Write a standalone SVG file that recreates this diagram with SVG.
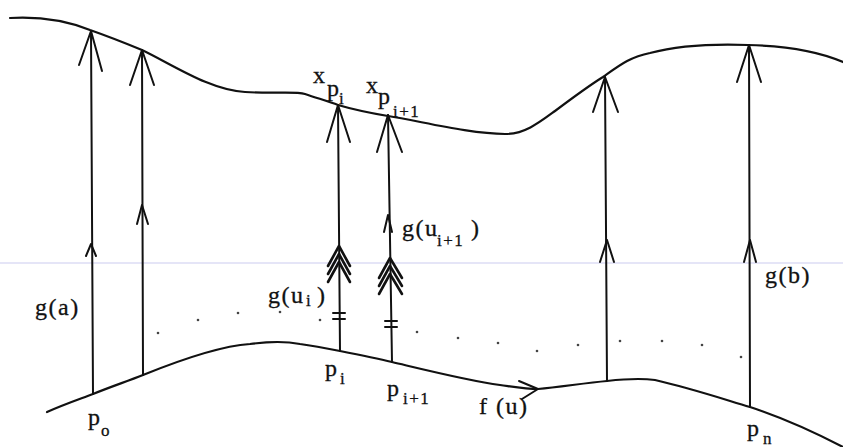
<svg xmlns="http://www.w3.org/2000/svg" width="843" height="447" viewBox="0 0 843 447">
<style>
.c{fill:none;stroke:#111;stroke-width:2.2;stroke-linecap:round}
.a{fill:none;stroke:#111;stroke-width:2;stroke-linecap:round;stroke-linejoin:round}
.b{fill:none;stroke:#111;stroke-width:2.6;stroke-linecap:round;stroke-linejoin:round}
text{font-family:"Liberation Serif","Times New Roman","DejaVu Serif",serif;font-size:24px;fill:#111;letter-spacing:1.5px;stroke:#111;stroke-width:0.3}
text.s{font-size:17px;letter-spacing:1.5px}
.d{fill:#444}
</style>
<rect width="843" height="447" fill="#fff"/>
<line x1="0" y1="263" x2="843" y2="263" stroke="#dcdcf4" stroke-width="1.5"/>
<g id="curves">
<path class="c" d="M10,18 C45,16 70,22 90,30 C110,37 125,43 142,50 C175,66 210,90 245,92 C275,94 295,91 305,94 C320,99 330,102 338,105 C355,110 370,113 388,116 C420,121 470,134 505,134 C525,134 540,122 555,111 C575,96 590,85 603,77 C620,65 630,57 650,53 C680,45 720,44 748,45 C790,46 820,52 843,62"/>
<path class="c" d="M47,412 C65,404 80,399 93,394 C110,387 128,381 143,375 C180,360 220,346 250,344 C265,342 285,341 300,344 C315,346 330,349 340,351 C360,355 375,358 392,362 C430,371 470,381 500,385 C515,387 527,389 538,389 C560,387 585,383 607,381 C625,379 640,378 655,380 C690,388 720,398 750,407 C790,420 820,435 843,447"/>
<polyline class="a" points="519,381 538,389 522,399"/>
</g>
<g id="connectors">
<g id="arrow-a">
<line class="a" x1="93" y1="394" x2="91" y2="31"/>
<polyline class="a" points="79,65 91,31 102,71"/>
<polyline class="a" points="86,256 91,244 96,256"/>
</g>
<g id="arrow-2">
<line class="a" x1="143" y1="375" x2="142" y2="50"/>
<polyline class="a" points="130,85 142,50 154,85"/>
<polyline class="a" points="137,224 142,205 148,224"/>
</g>
<g id="arrow-pi">
<line class="a" x1="340" y1="351" x2="338" y2="105"/>
<polyline class="a" points="327,142 338,105 350,142"/>
<polyline class="b" points="328,266 339,246 350,266"/>
<polyline class="b" points="328,274 339,254 350,274"/>
<polyline class="b" points="328,282 339,262 350,282"/>
<line class="a" x1="333" y1="313" x2="345" y2="313"/>
<line class="a" x1="333" y1="319" x2="345" y2="319"/>
</g>
<g id="arrow-pi1">
<line class="a" x1="392" y1="362" x2="388" y2="115"/>
<polyline class="a" points="377,152 388,115 402,152"/>
<polyline class="a" points="384,232 388,215 392,232"/>
<polyline class="b" points="379,278 390,258 402,278"/>
<polyline class="b" points="379,286 390,266 402,286"/>
<polyline class="b" points="379,294 390,274 402,294"/>
<line class="a" x1="385" y1="321" x2="397" y2="321"/>
<line class="a" x1="385" y1="327" x2="397" y2="327"/>
</g>
<g id="arrow-5">
<line class="a" x1="607" y1="381" x2="605" y2="77"/>
<polyline class="a" points="593,112 605,77 618,112"/>
<polyline class="a" points="600,262 607,240 614,262"/>
</g>
<g id="arrow-b">
<line class="a" x1="750" y1="407" x2="749" y2="45"/>
<polyline class="a" points="737,82 749,45 761,82"/>
<polyline class="a" points="744,262 750,240 756,262"/>
</g>
</g>
<g id="dots" class="d">
<circle cx="158" cy="333" r="1.3"/><circle cx="198" cy="320" r="1.3"/><circle cx="238" cy="313" r="1.3"/><circle cx="280" cy="312" r="1.3"/><circle cx="320" cy="320" r="1.3"/><circle cx="417" cy="332" r="1.3"/><circle cx="458" cy="338" r="1.3"/><circle cx="498" cy="343" r="1.3"/><circle cx="537" cy="351" r="1.3"/><circle cx="578" cy="345" r="1.3"/><circle cx="620" cy="341" r="1.3"/><circle cx="662" cy="341" r="1.3"/><circle cx="702" cy="345" r="1.3"/><circle cx="741" cy="357" r="1.3"/>
</g>
<g id="labels">
<text x="35" y="315">g(a)</text>
<text x="88" y="425">p</text><text class="s" x="101" y="436">o</text>
<text x="268" y="303">g(u</text><text class="s" x="306" y="306">i</text><text x="317" y="303">)</text>
<text x="402" y="236">g(u</text><text class="s" x="437" y="246">i+1</text><text x="471" y="236">)</text>
<text x="313" y="83">x</text><text x="327" y="96">p</text><text class="s" x="339" y="104">i</text>
<text x="366" y="93">x</text><text x="378" y="104">p</text><text class="s" x="393" y="117">i+1</text>
<text x="325" y="376">p</text><text class="s" x="340" y="384">i</text>
<text x="387" y="396">p</text><text class="s" x="403" y="404">i+1</text>
<text x="479" y="414">f (u)</text>
<text x="747" y="436">p</text><text class="s" x="763" y="444">n</text>
<text x="765" y="283">g(b)</text>
</g>
</svg>
